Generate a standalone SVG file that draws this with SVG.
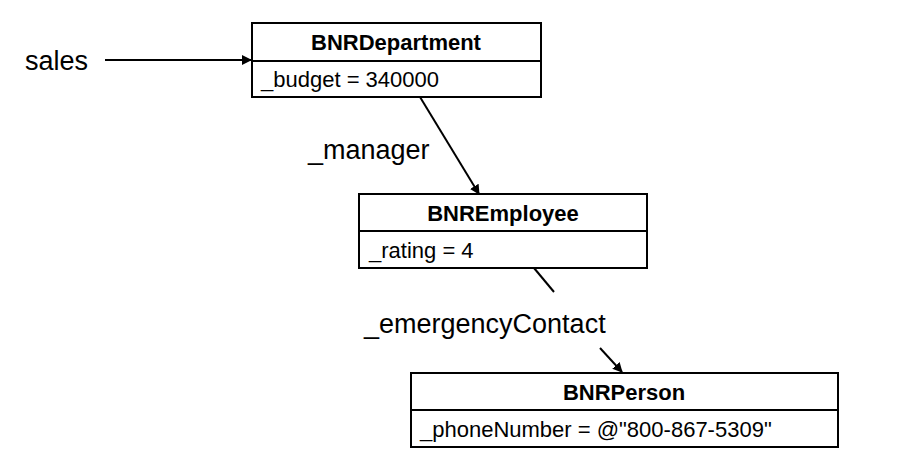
<svg xmlns="http://www.w3.org/2000/svg" width="920" height="469" viewBox="0 0 920 469">
<style>
.box{fill:#fff;stroke:#000;stroke-width:2}
.h{font-family:"Liberation Sans",Arial,sans-serif;font-weight:bold;font-size:22px;text-anchor:middle}
.b{font-family:"Liberation Sans",Arial,sans-serif;font-size:22px}
.l{font-family:"Liberation Sans",Arial,sans-serif;font-size:27px}
.c{stroke:#000;stroke-width:2;fill:none}
</style>
<defs><marker id="a" markerWidth="10" markerHeight="10" refX="9" refY="5" orient="auto" markerUnits="userSpaceOnUse" viewBox="0 0 10 10"><path d="M0,0L10,5L0,10z"/></marker></defs>
<rect width="920" height="469" fill="#fff"/>
<g id="connectors">
<text class="l" x="25" y="70">sales</text>
<line class="c" x1="105" y1="60" x2="251" y2="60" marker-end="url(#a)" style="stroke-width:2"/>
<text class="l" x="308" y="159">_manager</text>
<line class="c" x1="420" y1="97" x2="479" y2="194" marker-end="url(#a)"/>
<text class="l" x="364" y="333">_emergencyContact</text>
<line class="c" x1="534" y1="268" x2="554" y2="292"/>
<line class="c" x1="600" y1="348" x2="622" y2="372" marker-end="url(#a)"/>
</g>
<g id="BNRDepartment">
<rect class="box" x="252" y="23" width="289" height="74"/>
<line class="c" x1="252" y1="61" x2="541" y2="61"/>
<text class="h" x="396" y="50">BNRDepartment</text>
<text class="b" x="261" y="87">_budget = 340000</text>
</g>
<g id="BNREmployee">
<rect class="box" x="359" y="194" width="288" height="74"/>
<line class="c" x1="359" y1="231" x2="647" y2="231"/>
<text class="h" x="503" y="221">BNREmployee</text>
<text class="b" x="369" y="258">_rating = 4</text>
</g>
<g id="BNRPerson">
<rect class="box" x="411" y="373" width="427" height="74"/>
<line class="c" x1="411" y1="410" x2="838" y2="410"/>
<text class="h" x="624" y="400">BNRPerson</text>
<text class="b" x="420" y="437">_phoneNumber = @"800-867-5309"</text>
</g>
</svg>
